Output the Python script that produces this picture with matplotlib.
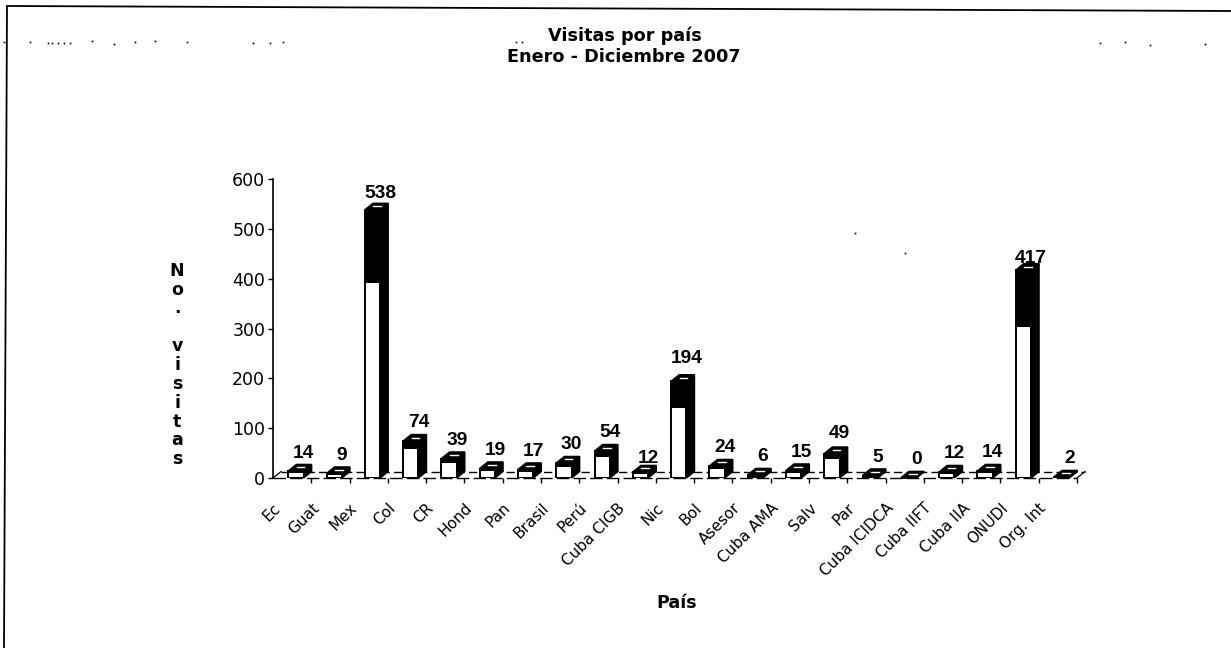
import matplotlib
matplotlib.use('Agg')
import numpy as np
from matplotlib import pyplot as plt
from matplotlib.patches import Polygon

paises = ['Ec', 'Guat', 'Mex', 'Col', 'CR', 'Hond', 'Pan', 'Brasil', 'Perú', 'Cuba CIGB', 'Nic',
          'Bol', 'Asesor', 'Cuba AMA', 'Salv', 'Par', 'Cuba ICIDCA', 'Cuba IIFT', 'Cuba IIA', 'ONUDI', 'Org. Int']
visitas = [14, 9, 538, 74, 39, 19, 17, 30, 54, 12, 194, 24, 6, 15, 49, 5, 0, 12, 14, 417, 2]
y_ticks = [0, 100, 200, 300, 400, 500, 600]

# ajustes finos de las etiquetas (puntos)
ajuste_y = {'Nic': 3, 'Salv': 1, 'Cuba CIGB': -3.5, 'ONUDI': -5, 'Ec': -1, 'Mex': -1.5}

# manchas del escaneo (pixeles)
manchas_x = [4, 30, 48, 52, 58, 64, 70, 92, 114, 135, 155, 187, 253, 270, 283, 516, 522, 905, 855, 1100, 1125, 1150, 1205]
manchas_y = [42, 42, 43, 43, 43, 43, 43, 41, 44, 42, 41, 42, 43, 43, 42, 42, 42, 253, 233, 43, 42, 45, 44]

W, H = 1231, 648
dx, dy = 0.21, 13      # profundidad del efecto 3D
ancho = 0.4

fig = plt.figure(figsize=(W/100, H/100), dpi=100)
ax = fig.add_axes([273/W, (H-478)/H, 804/W, 299/H])
ax.set_xlim(0, len(paises))
ax.set_ylim(0, 600)
for s in ['top', 'right', 'bottom']:
    ax.spines[s].set_visible(False)
ax.spines['left'].set_linewidth(1.2)

# piso
ax.plot([0, dx], [0, dy], color='k', lw=0.9, clip_on=False)
ax.plot([len(paises), len(paises)+dx], [0, dy], color='k', lw=0.9, clip_on=False)
ax.plot([dx, len(paises)+dx], [dy, dy], color='k', lw=1, ls=(0, (6, 3)), clip_on=False, zorder=1)
ax.plot([0, len(paises)], [0, 0], color='k', lw=1, ls=(0, (9, 3)), clip_on=False, zorder=1)

x = np.arange(len(paises)) + 0.4
v = np.array(visitas, dtype=float)
blanco = np.where(v >= 100, v*0.73, v*0.8)

ax.bar(x, blanco, ancho, align='edge', color='white', edgecolor='k', lw=1.4, zorder=3)
ax.bar(x, v-blanco, ancho, bottom=blanco, align='edge', color='k', edgecolor='k', lw=1.4, zorder=3)

for p, xi, vi in zip(paises, x, v):
    lado = [(xi+ancho, 0), (xi+ancho+dx, dy), (xi+ancho+dx, vi+dy), (xi+ancho, vi)]
    techo = [(xi, vi), (xi+dx, vi+dy), (xi+ancho+dx, vi+dy), (xi+ancho, vi)]
    ax.add_patch(Polygon(lado, closed=True, fc='k', ec='k', lw=1, zorder=4, clip_on=False))
    ax.add_patch(Polygon(techo, closed=True, fc='k', ec='k', lw=1.2, zorder=4, clip_on=False))
    ax.plot([xi+0.22, xi+0.42], [vi+dy*0.55, vi+dy*0.55], color='white', lw=1, zorder=5, clip_on=False)
    ax.annotate(str(int(vi)), (xi+0.4, vi+dy), xytext=(0, 2.5+ajuste_y.get(p, 0)), textcoords='offset points',
                ha='center', va='bottom', fontsize=13.8, fontweight='bold', family='Liberation Sans', zorder=6)

ax.set_yticks(y_ticks)
ax.tick_params(axis='y', labelsize=12.5, length=3.6, width=1, pad=2)
ax.set_xticks(np.arange(1, len(paises)+1))
ax.set_xticklabels([])
ax.tick_params(axis='x', length=3.6, width=1)
for i, p in enumerate(paises):
    ax.annotate(p, (i, 0), xytext=(0, -16), textcoords='offset points', rotation=45,
                rotation_mode='anchor', ha='right', va='top', fontsize=11, clip_on=False)

fig.text(625/W, 1-36/H, 'Visitas por país', ha='center', va='center', fontsize=12.7, fontweight='bold')
fig.text(624/W, 1-57/H, 'Enero - Diciembre 2007', ha='center', va='center', fontsize=12.7, fontweight='bold')
fig.text(677/W, 1-603/H, 'País', ha='center', va='center', fontsize=12.6, fontweight='bold')
fig.text(177/W, 1-365/H, 'N\no\n.\n\nv\ni\ns\ni\nt\na\ns', ha='center', va='center', fontsize=12.5,
         fontweight='bold', linespacing=1.06)

# borde del escaneo
fig.add_artist(plt.Line2D([7/W, 4/W], [1-7/H, 0], color='k', lw=1.3))
fig.add_artist(plt.Line2D([7/W, 1], [1-6/H, 1-11/H], color='k', lw=1.3))
fig.add_artist(plt.Line2D(np.array(manchas_x)/W, 1-np.array(manchas_y)/H, ls='none', marker='s', ms=1.2,
                          color='k', mew=0))

fig.savefig('out.png', dpi=100)
